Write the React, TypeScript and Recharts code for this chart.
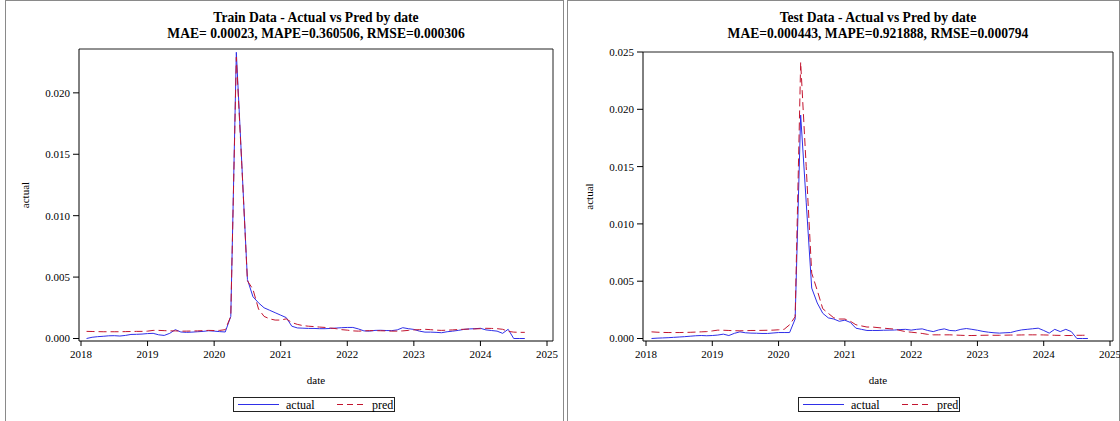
import React from 'react';
import { LineChart, Line, XAxis, YAxis, Legend, CartesianGrid } from 'recharts';

const months = [
  '2018-02', '2018-03', '2018-04', '2018-05', '2018-06', '2018-07', '2018-08', '2018-09', '2018-10', '2018-11', '2018-12',
  '2019-01', '2019-02', '2019-03', '2019-04', '2019-05', '2019-06', '2019-07', '2019-08', '2019-09', '2019-10', '2019-11', '2019-12',
  '2020-01', '2020-02', '2020-03', '2020-04', '2020-05', '2020-06', '2020-07', '2020-08', '2020-09', '2020-10', '2020-11', '2020-12',
  '2021-01', '2021-02', '2021-03', '2021-04', '2021-05', '2021-06', '2021-07', '2021-08', '2021-09', '2021-10', '2021-11', '2021-12',
  '2022-01', '2022-02', '2022-03', '2022-04', '2022-05', '2022-06', '2022-07', '2022-08', '2022-09', '2022-10', '2022-11', '2022-12',
  '2023-01', '2023-02', '2023-03', '2023-04', '2023-05', '2023-06', '2023-07', '2023-08', '2023-09', '2023-10', '2023-11', '2023-12',
  '2024-01', '2024-02', '2024-03', '2024-04', '2024-05', '2024-06', '2024-07', '2024-08', '2024-09',
];

const trainActual = [
  0.0, 0.0001, 0.00015, 0.00018, 0.00022, 0.00023, 0.0002, 0.00025, 0.00033, 0.00034, 0.00036,
  0.0004, 0.00042, 0.0003, 0.00025, 0.00042, 0.00072, 0.00053, 0.0005, 0.00052, 0.00055, 0.00058, 0.00063,
  0.0006, 0.00056, 0.00053, 0.0018, 0.0233, 0.0141, 0.0048, 0.0034, 0.0029, 0.0025, 0.0023, 0.0021,
  0.0019, 0.0017, 0.001, 0.00086, 0.00084, 0.00082, 0.00082, 0.0008, 0.0008, 0.00082, 0.00085, 0.00088,
  0.0009, 0.0009, 0.00078, 0.00062, 0.0006, 0.00066, 0.00067, 0.00065, 0.00064, 0.0007, 0.00088, 0.0008,
  0.00074, 0.0006, 0.00052, 0.00052, 0.0005, 0.00047, 0.00055, 0.0006, 0.00066, 0.00074, 0.00078, 0.0008,
  0.00083, 0.0007, 0.00065, 0.0006, 0.00042, 0.00075, 0.0, 0.0, 0.0,
];

const trainPred = [
  0.00058, 0.00057, 0.00056, 0.00055, 0.00055, 0.00055, 0.00055, 0.00056, 0.00057, 0.00058, 0.00058,
  0.0006, 0.00066, 0.00066, 0.00064, 0.00062, 0.00062, 0.0006, 0.0006, 0.00061, 0.00062, 0.00064, 0.00066,
  0.00065, 0.00066, 0.00072, 0.0018, 0.0229, 0.014, 0.0047, 0.004, 0.0024, 0.0018, 0.0016, 0.0015,
  0.0015, 0.0016, 0.0013, 0.00115, 0.00105, 0.001, 0.00097, 0.00093, 0.0009, 0.00085, 0.0008, 0.00072,
  0.00068, 0.00062, 0.0006, 0.00062, 0.00064, 0.00064, 0.00063, 0.00062, 0.0006, 0.0006, 0.00062, 0.00066,
  0.0007, 0.00072, 0.00075, 0.00072, 0.00068, 0.00066, 0.00068, 0.0007, 0.00073, 0.00075, 0.00077, 0.00078,
  0.0008, 0.00083, 0.00082, 0.0008, 0.00075, 0.00058, 0.00052, 0.0005, 0.0005,
];

const testActual = [
  0.0, 0.00003, 0.00005, 0.00007, 0.0001, 0.00013, 0.00016, 0.0002, 0.00024, 0.00026, 0.00024,
  0.00026, 0.0003, 0.00038, 0.00026, 0.00045, 0.00058, 0.0005, 0.00047, 0.00046, 0.00044, 0.00044, 0.00048,
  0.00052, 0.00052, 0.00052, 0.0017, 0.0195, 0.0119, 0.0044, 0.0031, 0.0022, 0.0018, 0.0017, 0.0015,
  0.0016, 0.0014, 0.0009, 0.0008, 0.0007, 0.0007, 0.0007, 0.00072, 0.00073, 0.00074, 0.00078, 0.0008,
  0.00073, 0.0008, 0.00084, 0.0007, 0.0006, 0.00075, 0.00084, 0.0007, 0.00067, 0.0008, 0.00087, 0.0008,
  0.00072, 0.00062, 0.00055, 0.0005, 0.00047, 0.0005, 0.00052, 0.00065, 0.00075, 0.0008, 0.00085, 0.0009,
  0.0007, 0.00047, 0.0008, 0.0006, 0.0008, 0.0006, 0.0, 0.0, 0.0,
];

const testPred = [
  0.00058, 0.00055, 0.00053, 0.00052, 0.00052, 0.00052, 0.00053, 0.00054, 0.00056, 0.00058, 0.0006,
  0.00066, 0.00073, 0.00072, 0.0007, 0.00068, 0.00067, 0.00068, 0.0007, 0.0007, 0.00071, 0.00072, 0.00073,
  0.00076, 0.0008, 0.0012, 0.0019, 0.0241, 0.015, 0.0057, 0.0042, 0.0026, 0.0022, 0.0018, 0.0017,
  0.0017, 0.0015, 0.0012, 0.0011, 0.001, 0.001, 0.00095, 0.0009, 0.00086, 0.00082, 0.0007, 0.0006,
  0.00055, 0.0005, 0.00044, 0.00036, 0.00032, 0.00032, 0.00032, 0.00032, 0.0003, 0.00028, 0.00026, 0.00026,
  0.00027, 0.00028, 0.00029, 0.00028, 0.00028, 0.00029, 0.0003, 0.0003, 0.00031, 0.00032, 0.00032, 0.00032,
  0.00031, 0.0003, 0.00028, 0.00027, 0.00026, 0.00026, 0.00028, 0.00028, 0.00029,
];

const yearTicks = [2018, 2019, 2020, 2021, 2022, 2023, 2024, 2025];
const trainYTicks = [0, 0.005, 0.01, 0.015, 0.02];
const testYTicks = [0, 0.005, 0.01, 0.015, 0.02, 0.025];

const BLUE = '#2f2fe8';
const RED = '#c3152f';
const SERIF = 'Liberation Serif, Times New Roman, serif';

const toYear = (m: string) => {
  const [y, mo] = m.split('-').map(Number);
  return y + (mo - 1) / 12;
};

const buildRows = (actual: number[], pred: number[]) =>
  months.map((m, i) => ({ date: toYear(m), actual: actual[i], pred: pred[i] }));

const LegendBox = (props: any) => {
  const items = props.payload || [];
  const blue = items.find((p: any) => p.value === 'actual');
  const red = items.find((p: any) => p.value === 'pred');
  return (
    <svg width={163} height={15} style={{ display: 'block' }}>
      <rect x={0.5} y={0.5} width={161} height={14} fill="#fff" stroke="#222" />
      <line x1={5} x2={46} y1={7.5} y2={7.5} stroke={blue ? blue.color : BLUE} />
      <text x={53} y={11.5} fontSize={12} fontFamily={SERIF} fill="#000">actual</text>
      <line x1={104} x2={131} y1={7.5} y2={7.5} stroke={red ? red.color : RED} strokeDasharray="6 4" />
      <text x={139} y={11.5} fontSize={12} fontFamily={SERIF} fill="#000">pred</text>
    </svg>
  );
};

type PanelProps = {
  x0: number;
  width: number;
  top: number;
  title: string;
  subtitle: string;
  actual: number[];
  pred: number[];
  yMax: number;
  yTicks: number[];
  xPad: { left: number; right: number };
  legendLeft: number;
};

// plot frame: top edge and right edge of the plotting area
const frameTop = ({ offset }: any) => [offset.top];
const frameRight = ({ offset }: any) => [offset.left + offset.width];

const Panel = ({ x0, width, top, title, subtitle, actual, pred, yMax, yTicks, xPad, legendLeft }: PanelProps) => {
  const rows = buildRows(actual, pred);
  const axisW = 79;
  const right = 7;
  const tickStyle = { fontSize: 11, fontFamily: SERIF, fill: '#000' };
  return (
    <div style={{ position: 'absolute', left: x0, top: 0, width, height: 421 }}>
      <div
        style={{
          position: 'absolute', left: axisW, top: 10, width: width - axisW - right,
          textAlign: 'center', fontWeight: 'bold', fontSize: 13.6, lineHeight: '16px', color: '#000',
        }}
      >
        <div>{title}</div>
        <div>{subtitle}</div>
      </div>
      <LineChart width={width} height={421} data={rows} margin={{ top, right, left: 0, bottom: 35 }} style={{ fontFamily: SERIF }}>
        <CartesianGrid
          stroke="#222"
          horizontalCoordinatesGenerator={frameTop}
          verticalCoordinatesGenerator={frameRight}
        />
        <XAxis
          dataKey="date"
          type="number"
          domain={[2018, 2025]}
          ticks={yearTicks}
          interval={0}
          padding={xPad}
          height={45}
          tickSize={5}
          tickMargin={4}
          tick={tickStyle}
          axisLine={{ stroke: '#000' }}
          tickLine={{ stroke: '#000' }}
          label={{ value: 'date', position: 'insideBottom', offset: 2, style: { fontSize: 11, fontFamily: SERIF, fill: '#000' } }}
        />
        <YAxis
          type="number"
          domain={[0, yMax]}
          ticks={yTicks}
          interval={0}
          width={axisW}
          padding={{ top: 0, bottom: 2.5 }}
          tickSize={6}
          tickMargin={3}
          tick={tickStyle}
          tickFormatter={(v: number) => v.toFixed(3)}
          axisLine={{ stroke: '#000' }}
          tickLine={{ stroke: '#000' }}
          label={{ value: 'actual', angle: -90, position: 'insideLeft', offset: 25, style: { fontSize: 11, fontFamily: SERIF, fill: '#000', textAnchor: 'middle' } }}
        />
        <Legend
          layout="horizontal"
          verticalAlign="middle"
          wrapperStyle={{ left: legendLeft, top: 397, width: 163, height: 15 }}
          content={LegendBox}
        />
        <Line type="linear" dataKey="actual" name="actual" stroke={BLUE} strokeWidth={1} dot={false} isAnimationActive={false} />
        <Line type="linear" dataKey="pred" name="pred" stroke={RED} strokeWidth={1} strokeDasharray="8 4" dot={false} isAnimationActive={false} />
      </LineChart>
    </div>
  );
};

export default function App() {
  return (
    <div style={{ position: 'absolute', left: 0, top: 0, width: 1120, height: 421, background: '#fff', overflow: 'hidden', fontFamily: SERIF }}>
      <div style={{ position: 'absolute', left: 5, top: 0, width: 559, height: 430, border: '1px solid #8a8a8a', boxSizing: 'border-box' }} />
      <div style={{ position: 'absolute', left: 567, top: 0, width: 553, height: 430, border: '1px solid #8a8a8a', boxSizing: 'border-box' }} />
      <Panel
        x0={0}
        width={560}
        top={49}
        title="Train Data - Actual vs Pred by date"
        subtitle="MAE= 0.00023, MAPE=0.360506, RMSE=0.000306"
        actual={trainActual}
        pred={trainPred}
        yMax={0.02357}
        yTicks={trainYTicks}
        xPad={{ left: 2, right: 6 }}
        legendLeft={233}
      />
      <Panel
        x0={564}
        width={556}
        top={52}
        title="Test Data - Actual vs Pred by date"
        subtitle="MAE=0.000443, MAPE=0.921888, RMSE=0.000794"
        actual={testActual}
        pred={testPred}
        yMax={0.025}
        yTicks={testYTicks}
        xPad={{ left: 3, right: 3 }}
        legendLeft={234}
      />
    </div>
  );
}
